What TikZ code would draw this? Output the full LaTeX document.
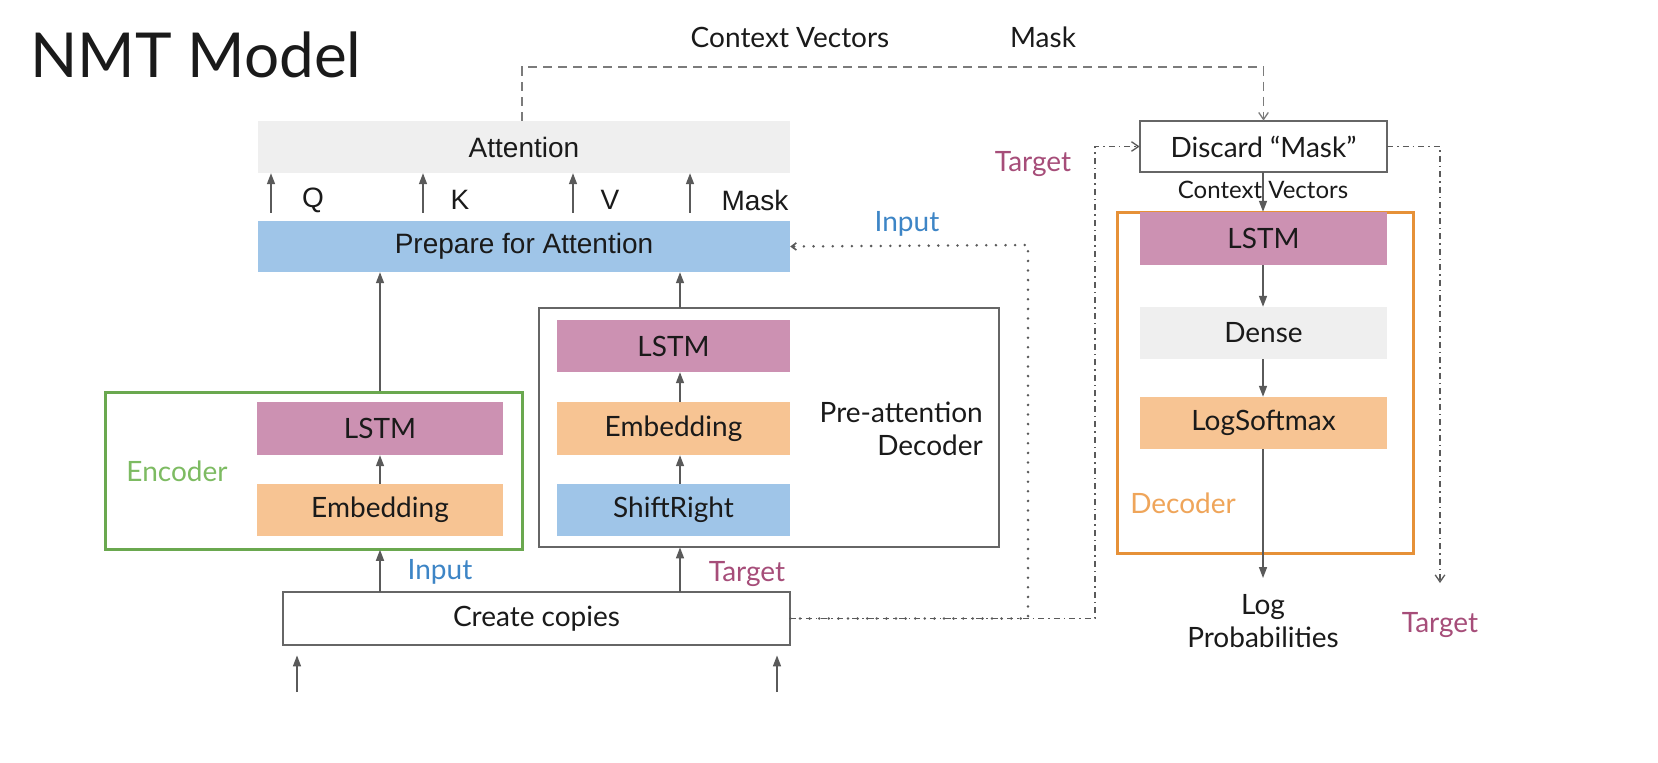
\documentclass[tikz,border=0pt]{standalone}
\usepackage{fontspec}
\setmainfont{Lato}
\newfontfamily\arialf{Liberation Sans}
\usetikzlibrary{arrows.meta,calc}
\definecolor{cpink}{HTML}{CC91B2}
\definecolor{corange}{HTML}{F7C493}
\definecolor{cblue}{HTML}{9FC5E8}
\definecolor{cgray}{HTML}{EFEFEF}
\definecolor{cgreen}{HTML}{6AA84F}
\definecolor{cgreentxt}{HTML}{7DBB62}
\definecolor{cborange}{HTML}{E69138}
\definecolor{corangetxt}{HTML}{EFA55A}
\definecolor{cmag}{HTML}{A64D79}
\definecolor{cbluetxt}{HTML}{3D85C6}
\definecolor{cline}{HTML}{5A5A5A}
\definecolor{cedge}{HTML}{666666}
\definecolor{ctext}{HTML}{1A1A1A}
\tikzset{
  blk/.style={rectangle, inner sep=0pt, draw=none, text=ctext,
    font=\fontsize{28}{33}\selectfont},
  outl/.style={rectangle, inner sep=0pt, draw=cedge, line width=0.8pt, fill=white},
  lbl/.style={inner sep=0pt, text=ctext, font=\fontsize{28}{33}\selectfont},
  arr/.style={draw=cline, line width=0.75pt, -{Triangle[length=5.5pt,width=4pt]}},
  dsh/.style={draw=cline!80, line width=0.65pt, dash pattern=on 4.5pt off 3pt},
  dtt/.style={draw=cline, line width=1.4pt, line cap=round, dash pattern=on 0pt off 4.8pt},
  dd/.style={draw=cline, line width=0.65pt, dash pattern=on 3pt off 2pt on 0.75pt off 2pt},
  tipb/.style={-{Straight Barb[length=3.5pt,width=4.8pt]}},
  tipc/.style={-{Straight Barb[length=2.4pt,width=3.6pt,line width=0.8pt]}},
}
\begin{document}
\begin{tikzpicture}[x=1pt,y=-1pt,scale=0.5,every node/.append style={transform shape}]
\useasboundingbox[fill=white] (0,0) rectangle (1658,762);

% title
\node[lbl, anchor=base west, font=\fontsize{62}{70}\selectfont] (title) at (30,77) {NMT Model};

% attention and prepare
\node[blk, fill=cgray, minimum width=532pt, minimum height=52pt, font=\arialf\fontsize{28}{33}\selectfont] (att) at (524,147) {Attention};
\node[blk, fill=cblue, minimum width=532pt, minimum height=51pt, font=\arialf\fontsize{28}{33}\selectfont] (prep) at (524,246.5) {Prepare for Attention};

\foreach \xx/\nm/\lx in {271/Q/313, 423/K/460, 573/V/610, 690/Mask/755}{
  \draw[arr, shorten <=4pt] (prep.north -| \xx,0) -- (att.south -| \xx,0);
  \node[lbl, font=\arialf\fontsize{28}{33}\selectfont] (lab\nm) at (\lx,200) {\nm};
}

% encoder
\node[rectangle, draw=cgreen, line width=1.5pt, minimum width=417pt, minimum height=157pt, inner sep=0pt] (encbox) at (313.5,470.5) {};
\node[blk, fill=cpink, minimum width=246pt, minimum height=53pt] (encLSTM) at (380,428.5) {LSTM};
\node[blk, fill=corange, minimum width=246pt, minimum height=52pt] (encEmb) at (380,510) {Embedding};
\node[lbl, text=cgreentxt] (enclab) at (177,471) {Encoder};
\draw[arr] (encEmb.north) -- (encLSTM.south);
\draw[arr] (encbox.north -| encLSTM) -- (prep.south -| encLSTM);

% pre-attention decoder
\node[outl, fill=none, minimum width=460pt, minimum height=239pt] (prebox) at (769,427.5) {};
\node[blk, fill=cpink, minimum width=233pt, minimum height=52pt] (pLSTM) at (673.5,346) {LSTM};
\node[blk, fill=corange, minimum width=233pt, minimum height=53pt] (pEmb) at (673.5,428.5) {Embedding};
\node[blk, fill=cblue, minimum width=233pt, minimum height=52pt] (shift) at (673.5,510) {ShiftRight};
\node[lbl, anchor=east, align=right] (prelab) at (983,429) {Pre-attention\\Decoder};
\draw[arr] (shift.north -| 680,0) -- (pEmb.south -| 680,0);
\draw[arr] (pEmb.north -| 680,0) -- (pLSTM.south -| 680,0);
\draw[arr] (prebox.north -| 680,0) -- (prep.south -| 680,0);

% create copies
\node[outl, minimum width=507pt, minimum height=53pt, text=ctext, font=\fontsize{28}{33}\selectfont] (copies) at (536.5,618.5) {Create copies};
\draw[arr] (copies.north -| encLSTM) -- (encbox.south -| encLSTM);
\draw[arr] (copies.north -| 680,0) -- (prebox.south -| 680,0);
\node[lbl, text=cbluetxt] (inlab) at (440,572) {Input};
\node[lbl, text=cmag] (tglab) at (747,574) {Target};
\coordinate (inA) at (297,692);
\coordinate (inB) at (777,692);
\draw[arr, shorten >=5pt] (inA) -- (copies.south -| inA);
\draw[arr, shorten >=5pt] (inB) -- (copies.south -| inB);

% right decoder
\node[outl, minimum width=247pt, minimum height=51pt, text=ctext, font=\fontsize{28}{33}\selectfont] (disc) at (1263.5,146.5) {Discard \textquotedblleft Mask\textquotedblright};
\node[rectangle, draw=cborange, line width=1.5pt, minimum width=296pt, minimum height=341pt, inner sep=0pt] (decbox) at (1265,382.5) {};
\node[blk, fill=cpink, minimum width=247pt, minimum height=53pt] (dLSTM) at (1263.5,238.5) {LSTM};
\node[blk, fill=cgray, minimum width=247pt, minimum height=52pt] (dense) at (1263.5,333) {Dense};
\node[blk, fill=corange, minimum width=247pt, minimum height=52pt] (logsm) at (1263.5,423) {LogSoftmax};
\node[lbl, text=corangetxt] (declab) at (1183,503) {Decoder};
\node[lbl, align=center] (logp) at (1263,621) {Log\\Probabilities};
\draw[arr] (disc.south -| 1263,0) -- (dLSTM.north -| 1263,0);
\node[lbl, font=\fontsize{24}{28}\selectfont] (cvsmall) at (1263,190) {Context Vectors};
\draw[arr] (dLSTM.south -| 1263,0) -- (dense.north -| 1263,0);
\draw[arr] (dense.south -| 1263,0) -- (logsm.north -| 1263,0);
\draw[arr] (logsm.south -| 1263,0) -- (1263,578);

% top dashed
\node[lbl] (cvtop) at (790,37) {Context Vectors};
\node[lbl] (masktop) at (1043,37) {Mask};
\draw[dsh, tipb] (att.north -| 522,0) -- (522,67) -| (disc.north);

% dotted input
\draw[dtt, tipc] (copies.east) -- (1028,618.5) -- (1028,245) -- (prep.east);
\node[lbl, text=cbluetxt] (inlab2) at (907,224) {Input};

% dash-dot target
\draw[dd, tipb] (copies.east) -- (1095,618.5) |- (disc.west);
\node[lbl, text=cmag] (tglab2) at (1033,164) {Target};
\draw[dd, tipb] (disc.east) -- (1440,146.5) -- (1440,583);
\node[lbl, text=cmag] (tglab3) at (1440,625) {Target};
\end{tikzpicture}
\end{document}
